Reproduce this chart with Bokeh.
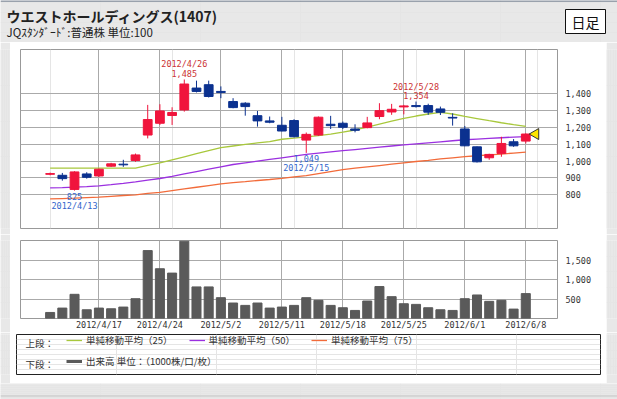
from math import pi
from bokeh.plotting import figure
from bokeh.models import (Range1d, FixedTicker, NumeralTickFormatter, Grid, ColumnDataSource,
                          Label, BoxAnnotation, Legend, LegendItem)
from bokeh.layouts import column, row
from bokeh.embed import file_html
from bokeh.resources import INLINE
from bokeh.core.properties import value

# ---------------- data ----------------
dates = ["2012/4/11", "2012/4/12", "2012/4/13", "2012/4/16", "2012/4/17", "2012/4/18", "2012/4/19",
         "2012/4/20", "2012/4/23", "2012/4/24", "2012/4/25", "2012/4/26", "2012/4/27", "2012/5/1",
         "2012/5/2", "2012/5/7", "2012/5/8", "2012/5/9", "2012/5/10", "2012/5/11", "2012/5/14",
         "2012/5/15", "2012/5/16", "2012/5/17", "2012/5/18", "2012/5/21", "2012/5/22", "2012/5/23",
         "2012/5/24", "2012/5/25", "2012/5/28", "2012/5/29", "2012/5/30", "2012/5/31", "2012/6/1",
         "2012/6/4", "2012/6/5", "2012/6/6", "2012/6/7", "2012/6/8"]
open_ = [922, 916, 832, 924, 912, 970, 982, 1004, 1155, 1225, 1271, 1304, 1434, 1454, 1414, 1354,
         1344, 1270, 1239, 1213, 1241, 1125, 1155, 1219, 1225, 1191, 1199, 1265, 1292, 1322, 1330,
         1330, 1310, 1260, 1191, 1085, 1020, 1046, 1115, 1119]
high = [932, 930, 940, 934, 956, 990, 1008, 1045, 1334, 1338, 1320, 1485, 1478, 1478, 1444, 1374,
        1350, 1298, 1265, 1263, 1249, 1170, 1265, 1269, 1235, 1219, 1263, 1344, 1340, 1334, 1354,
        1341, 1324, 1284, 1209, 1087, 1044, 1145, 1131, 1165]
low = [916, 884, 825, 896, 906, 966, 966, 996, 1135, 1215, 1215, 1294, 1408, 1378, 1374, 1314,
       1270, 1205, 1225, 1177, 1141, 1049, 1150, 1191, 1191, 1171, 1195, 1249, 1275, 1278, 1318,
       1275, 1274, 1211, 1089, 992, 1008, 1026, 1085, 1105]
close = [926, 896, 936, 904, 952, 984, 978, 1037, 1247, 1298, 1289, 1458, 1414, 1384, 1408, 1318,
         1324, 1239, 1231, 1179, 1145, 1159, 1261, 1211, 1201, 1183, 1227, 1300, 1308, 1328, 1324,
         1291, 1290, 1256, 1091, 996, 1040, 1105, 1091, 1161]
ma25 = [958, 958, 958, 958, 958, 958, 958, 958, 975, 990, 1008, 1026, 1044, 1062, 1080, 1090,
        1099, 1108, 1116, 1130, 1137, 1144, 1152, 1160, 1172, 1185, 1202, 1220, 1238, 1254, 1268,
        1280, 1289, 1280, 1266, 1253, 1240, 1228, 1217, 1207]
ma50 = [841, 843, 846, 849, 853, 860, 868, 877, 887, 897, 910, 924, 938, 952, 966, 980, 990, 1000,
        1010, 1020, 1030, 1040, 1048, 1055, 1062, 1069, 1076, 1083, 1090, 1097, 1103, 1109, 1115,
        1121, 1127, 1131, 1135, 1139, 1143, 1146]
ma75 = [776, 778, 780, 783, 786, 791, 796, 800, 808, 815, 825, 835, 845, 855, 865, 872, 878, 885,
        891, 898, 906, 914, 926, 938, 950, 958, 966, 974, 982, 990, 998, 1005, 1013, 1020, 1027,
        1032, 1037, 1042, 1048, 1053]
volume = [155, 267, 620, 224, 267, 250, 293, 508, 1741, 1276, 1164, 1983, 810, 810, 534, 397, 336,
          397, 267, 293, 336, 534, 466, 336, 276, 207, 448, 819, 560, 379, 362, 276, 224, 207, 508,
          603, 440, 466, 241, 638]
tick_dates = ["2012/4/17", "2012/4/24", "2012/5/2", "2012/5/11", "2012/5/18", "2012/5/25",
              "2012/6/1", "2012/6/8"]
price_ticks = [800, 900, 1000, 1100, 1200, 1300, 1400]
volume_ticks = [500, 1000, 1500]
mark_dates = ["2012/4/26", "2012/4/13", "2012/5/15", "2012/5/28"]
mark_values = [1485, 825, 1049, 1354]
mark_sides = ["high", "low", "low", "high"]

title_text = "ウエストホールディングス(1407)"
subtitle_text = "JQｽﾀﾝﾀﾞｰﾄﾞ:普通株 単位:100"
period_text = "日足"
legend_labels = ["単純移動平均（25）", "単純移動平均（50）", "単純移動平均（75）"]
volume_label = "出来高 単位：（1000株/口/枚）"

# ---------------- styles ----------------
W = 617
SL, SR = 10, 11          # grey side strips around the white panel
PW = W - SL - SR         # white panel width
UP = "#f0143c"
DOWN = "#0b318f"
C25, C50, C75 = "#a8c83c", "#9b30e0", "#f26b3a"
GRID = "#aaaaaa"
MONO = "DejaVu Sans Mono"
JP = "Noto Sans CJK JP"
PANEL = "#e8e8e8"

idx = list(range(len(dates)))
tick_idx = [dates.index(d) for d in tick_dates]
xr = Range1d(-2.43, 41.6)

def base(height, width=W, **kw):
    opts = dict(width=width, height=height, toolbar_location=None, output_backend="svg")
    opts.update(kw)
    return figure(**opts)

def strip(height, width):
    return base(height, width=width, x_range=Range1d(0, 1), y_range=Range1d(0, 1),
                x_axis_location=None, y_axis_location=None, min_border=0,
                outline_line_color=None, background_fill_color=PANEL, border_fill_color=PANEL)

# ---------------- header (frame = whole strip, px units) ----------------
hdr = base(42, x_range=Range1d(0, W), y_range=Range1d(0, 42), x_axis_location=None,
           y_axis_location=None, min_border=0, outline_line_color=None,
           background_fill_color=PANEL, border_fill_color=PANEL)
hdr.add_layout(BoxAnnotation(left=0, right=W, bottom=41, top=42, fill_color="#4a5a70",
                             fill_alpha=1, line_alpha=0))
hdr.add_layout(Label(x=6, y=27, text=title_text, text_font=JP, text_font_size="14px",
                     text_font_style="bold", text_baseline="middle", text_color="#222222"))
hdr.add_layout(Label(x=6, y=11, text=subtitle_text, text_font=JP, text_font_size="11.5px",
                     text_baseline="middle", text_color="#222222"))
hdr.add_layout(BoxAnnotation(left=565, right=605, bottom=9, top=33, fill_color="white",
                             fill_alpha=1, line_color="#111111", line_width=1, line_alpha=1))
hdr.add_layout(Label(x=585, y=21, text=period_text, text_font=JP, text_font_size="14px",
                     text_align="center", text_baseline="middle", text_color="#111111"))

# ---------------- price ----------------
p = base(192, width=PW, x_range=xr, y_range=Range1d(600, 1663), x_axis_location=None,
         y_axis_location="right", min_border_left=10, min_border_right=49, min_border_top=7,
         min_border_bottom=6, outline_line_color="#999999", background_fill_color="white",
         border_fill_color="white")
p.yaxis.ticker = FixedTicker(ticks=price_ticks)
p.yaxis.formatter = NumeralTickFormatter(format="0,0")
p.ygrid.ticker = FixedTicker(ticks=price_ticks)
p.ygrid.grid_line_color = GRID
p.add_layout(Grid(dimension=0, ticker=FixedTicker(ticks=tick_idx), grid_line_color=GRID))

p.line(idx, ma75, line_color=C75, line_width=1.3)
p.line(idx, ma50, line_color=C50, line_width=1.3)
p.line(idx, ma25, line_color=C25, line_width=1.3)

colors = [UP if c >= o else DOWN for o, c in zip(open_, close)]
csrc = ColumnDataSource(dict(x=idx, h=high, l=low,
                             top=[max(o, c) for o, c in zip(open_, close)],
                             bottom=[min(o, c) for o, c in zip(open_, close)],
                             color=colors))
p.segment(x0="x", y0="l", x1="x", y1="h", line_color="color", line_width=1, source=csrc)
p.vbar(x="x", width=0.72, top="top", bottom="bottom", fill_color="color", line_color="color",
       line_width=1, source=csrc)

p.scatter(x=[idx[-1] + 0.8], y=[close[-1]], marker="triangle", angle=pi / 2, size=11,
          fill_color="#ffe600", line_color="#333333", line_width=1)

mx = [dates.index(d) for d in mark_dates]
msrc = ColumnDataSource(dict(
    x=mx, y=mark_values,
    val=[f"{v:,}" for v in mark_values], date=mark_dates,
    voff=[-6 if s == "high" else 6 for s in mark_sides],
    doff=[-15 if s == "high" else 15 for s in mark_sides],
    color=["#cc3333" if s == "high" else "#3366cc" for s in mark_sides]))
p.text(x="x", y="y", text="val", y_offset="voff", text_color="color", text_align="center",
       text_baseline="middle", text_font=value(MONO), text_font_size="8.5px", source=msrc)
p.text(x="x", y="y", text="date", y_offset="doff", text_color="color", text_align="center",
       text_baseline="middle", text_font=value(MONO), text_font_size="8.5px", source=msrc)

# ---------------- volume ----------------
v = base(98, width=PW, x_range=xr, y_range=Range1d(0, 2000), y_axis_location="right",
         min_border_left=10, min_border_right=49, min_border_top=6, min_border_bottom=14,
         outline_line_color="#999999", background_fill_color="white", border_fill_color="white")
v.vbar(x=idx, top=volume, width=0.74, fill_color="#5a5a5a", line_color="#5a5a5a")
v.xaxis.ticker = FixedTicker(ticks=tick_idx)
v.xaxis.major_label_overrides = {i: d for i, d in zip(tick_idx, tick_dates)}
v.yaxis.ticker = FixedTicker(ticks=volume_ticks)
v.yaxis.formatter = NumeralTickFormatter(format="0,0")
v.xgrid.ticker = FixedTicker(ticks=tick_idx)
v.ygrid.ticker = FixedTicker(ticks=volume_ticks)
v.xgrid.grid_line_color = GRID
v.ygrid.grid_line_color = GRID

for ax in (p.yaxis[0], v.xaxis[0], v.yaxis[0]):
    ax.axis_line_color = None
    ax.major_tick_line_color = None
    ax.minor_tick_line_color = None
    ax.major_tick_out = 0
    ax.major_tick_in = 0
    ax.minor_tick_out = 0
    ax.major_label_text_font = MONO
    ax.major_label_text_font_size = "8.5px"
    ax.major_label_text_color = "#333333"
    ax.major_label_standoff = 8
v.xaxis.major_label_standoff = 1

# ---------------- legend (frame = the boxed area, px units) ----------------
lg = base(51, width=PW, x_range=Range1d(0, 584), y_range=Range1d(0, 40), x_axis_location=None,
          y_axis_location=None, min_border_left=6, min_border_right=6, min_border_top=2,
          min_border_bottom=9, outline_line_color="#222222", background_fill_color="white",
          border_fill_color="white")
# the real series, out of this panel's view, serve as the legend's swatches
l25 = lg.line(idx, ma25, line_color=C25, line_width=1.3)
l50 = lg.line(idx, ma50, line_color=C50, line_width=1.3)
l75 = lg.line(idx, ma75, line_color=C75, line_width=1.3)
lvol = lg.line(idx, volume, line_color="#5a5a5a", line_width=3)

def make_legend(items, loc):
    return Legend(items=items, orientation="horizontal", location=loc, glyph_width=16,
                  glyph_height=10, label_standoff=4, spacing=16, padding=0, margin=0,
                  border_line_color=None, background_fill_alpha=0, label_height=10,
                  label_text_font=JP, label_text_font_size="9.5px", label_text_color="#333333")

lg.add_layout(make_legend([LegendItem(label=t, renderers=[r]) for t, r in
                           zip(legend_labels, [l25, l50, l75])], (50, 27)))
lg.add_layout(make_legend([LegendItem(label=volume_label, renderers=[lvol])], (50, 6)))
lg.add_layout(Label(x=9, y=32, text="上段：", text_font=JP, text_font_size="9.5px",
                    text_baseline="middle", text_color="#333333"))
lg.add_layout(Label(x=9, y=11, text="下段：", text_font=JP, text_font_size="9.5px",
                    text_baseline="middle", text_color="#333333"))

# ---------------- footer ----------------
ft = base(16, x_range=Range1d(0, W), y_range=Range1d(0, 16), x_axis_location=None,
          y_axis_location=None, min_border=0, outline_line_color=None,
          background_fill_color=PANEL, border_fill_color=PANEL)
ft.add_layout(BoxAnnotation(left=0, right=W, bottom=3, top=4, fill_color="#c4c4c4",
                            fill_alpha=1, line_alpha=0))

layout = column(column(hdr),
                row(strip(192, SL), p, strip(192, SR), spacing=0),
                row(strip(98, SL), v, strip(98, SR), spacing=0),
                row(strip(51, SL), lg, strip(51, SR), spacing=0),
                column(ft), spacing=0)
open("out.html", "w").write(file_html(layout, INLINE))
